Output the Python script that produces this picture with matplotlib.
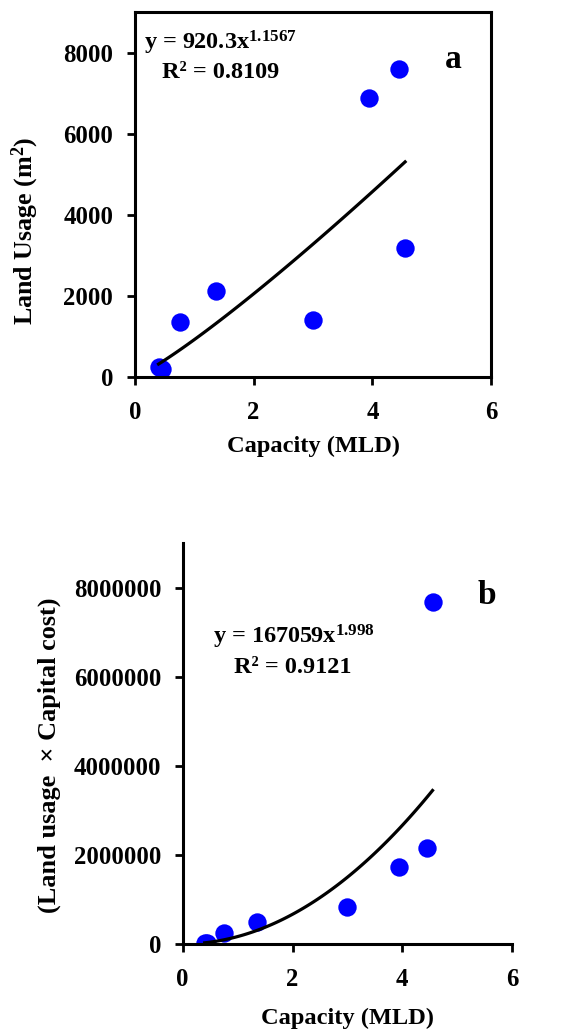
import numpy as np
import matplotlib
matplotlib.use("Agg")
import matplotlib.pyplot as plt

plt.rcParams['font.family'] = ['Liberation Serif', 'DejaVu Serif']
plt.rcParams['font.weight'] = 'bold'
plt.rcParams['mathtext.fontset'] = 'custom'
plt.rcParams['mathtext.rm'] = 'Liberation Serif'
plt.rcParams['mathtext.it'] = 'Liberation Serif:italic'
plt.rcParams['mathtext.bf'] = 'Liberation Serif:bold'
plt.rcParams['mathtext.default'] = 'regular'

# data
capacity = [0.40, 0.45, 0.76, 1.36, 3.00, 3.94, 4.45, 4.55]
land_usage = [250, 200, 1355, 2130, 1400, 6890, 7610, 3180]
land_x_cost = [20000, 15000, 246000, 493000, 836000, 1725000, 2150000, 7680000]

fit_a = (920.3, 1.1567)
fit_b = (167059, 1.998)
fit_range = (0.40, 4.55)

fig = plt.figure(figsize=(5.64, 10.30), dpi=100)
ax1 = fig.add_axes([0.239, 0.634, 0.632, 0.354])
ax2 = fig.add_axes([0.324, 0.0835, 0.584, 0.389])

xs = np.linspace(fit_range[0], fit_range[1], 100)


def style(ax, box):
    for s in ax.spines.values():
        s.set_linewidth(2.2)
    if not box:
        ax.spines['top'].set_visible(False)
        ax.spines['right'].set_visible(False)
    ax.tick_params(direction='out', length=6, width=2, labelsize=17.8,
                   top=False, right=False)
    ax.tick_params(axis='x', pad=11.5)
    ax.tick_params(axis='y', pad=9.5)
    for lab in ax.get_xticklabels() + ax.get_yticklabels():
        lab.set_fontweight('bold')


# panel a
ax1.scatter(capacity, land_usage, s=175, color='#0000ff', zorder=2, linewidths=0)
ax1.plot(xs, fit_a[0] * xs ** fit_a[1], color='black', lw=2.3, zorder=3)
ax1.set_xlim(0, 6)
ax1.set_ylim(0, 9000)
ax1.set_xticks([0, 2, 4, 6])
ax1.set_yticks([0, 2000, 4000, 6000, 8000])
style(ax1, True)
ax1.set_xlabel('Capacity (MLD)', fontsize=17.6, fontweight='bold', labelpad=8)
ax1.set_ylabel('Land Usage (m$^{2}$)', fontsize=18.7, fontweight='bold')
ax1.yaxis.set_label_coords(-0.262, 0.40)
ax1.text(0.025, 0.915, 'y = 920.3x$^{1.1567}$', transform=ax1.transAxes,
         fontsize=17.5, fontweight='bold', ha='left', va='center')
ax1.text(0.24, 0.836, 'R² = 0.8109', transform=ax1.transAxes,
         fontsize=17.5, fontweight='bold', ha='center', va='center')
ax1.text(0.893, 0.87, 'a', transform=ax1.transAxes,
         fontsize=24, fontweight='bold', ha='center', va='center')

# panel b
ax2.scatter(capacity, land_x_cost, s=175, color='#0000ff', zorder=2, linewidths=0)
ax2.plot(xs, fit_b[0] * xs ** fit_b[1], color='black', lw=2.3, zorder=3)
ax2.set_xlim(0, 6)
ax2.set_ylim(0, 9000000)
ax2.set_xticks([0, 2, 4, 6])
ax2.set_yticks([0, 2000000, 4000000, 6000000, 8000000])
ax2.set_yticklabels(['0', '2000000', '4000000', '6000000', '8000000'])
style(ax2, False)
ax2.set_xlabel('Capacity (MLD)', fontsize=17.6, fontweight='bold', labelpad=12)
ax2.set_ylabel('(Land usage  × Capital cost)', fontsize=18.9, fontweight='bold')
ax2.yaxis.set_label_coords(-0.37, 0.47)
ax2.text(0.337, 0.766, 'y = 167059x$^{1.998}$', transform=ax2.transAxes,
         fontsize=17.5, fontweight='bold', ha='center', va='center')
ax2.text(0.335, 0.69, 'R² = 0.9121', transform=ax2.transAxes,
         fontsize=17.5, fontweight='bold', ha='center', va='center')
ax2.text(0.924, 0.87, 'b', transform=ax2.transAxes,
         fontsize=24, fontweight='bold', ha='center', va='center')

fig.savefig('out.png', dpi=100)
